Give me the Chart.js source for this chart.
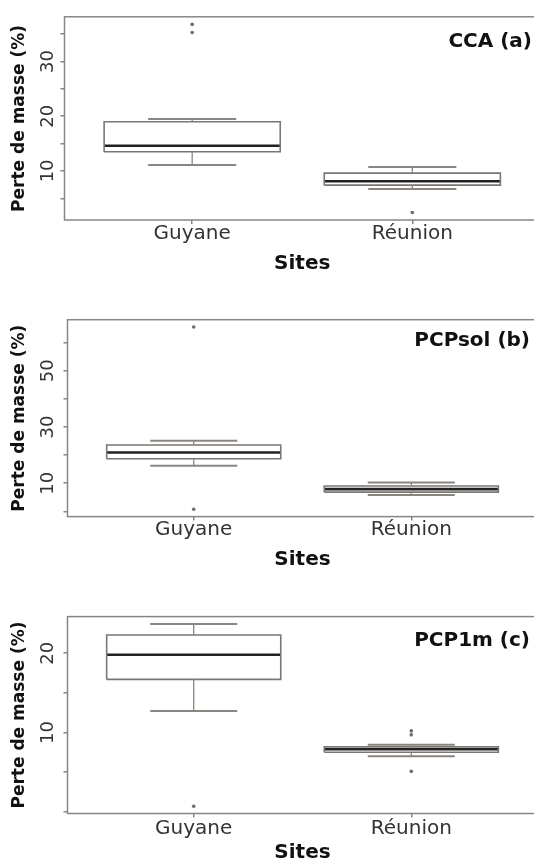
<!DOCTYPE html>
<html><head><meta charset="utf-8">
<script src="https://cdn.jsdelivr.net/npm/chart.js@4.4.1/dist/chart.umd.min.js"></script>
<style>
html,body{margin:0;padding:0;background:#fff;width:534px;height:861px;overflow:hidden;}
canvas{position:absolute;left:0;}
.lab{position:absolute;font-family:"DejaVu Sans";font-weight:bold;font-size:20px;line-height:20px;color:#111;white-space:nowrap;}
</style></head><body>
<canvas id="c1" width="560" height="290" style="top:0px"></canvas>
<canvas id="c2" width="560" height="290" style="top:290px"></canvas>
<canvas id="c3" width="560" height="281" style="top:580px"></canvas>
<div class="lab" style="right:2px;top:29.6px">CCA (a)</div>
<div class="lab" style="right:4px;top:329.1px">PCPsol (b)</div>
<div class="lab" style="right:4px;top:629.1px">PCP1m (c)</div>
<script>
// ---------- data ----------
const sites = ["Guyane", "Réunion"];
const xTickValues = [1, 2];
const yTitle = "Perte de masse (%)";
const xTitle = "Sites";

// CCA (a)
const ccaLow = [11.1, 6.7];
const ccaQ1 = [13.5, 7.4];
const ccaMedian = [14.6, 8.1];
const ccaQ3 = [19.0, 9.6];
const ccaHigh = [19.5, 10.7];
const ccaOutliers = [[36.8, 35.3], [2.4]];
const ccaTicks = [5, 10, 15, 20, 25, 30, 35];
const ccaTickLabels = [10, 20, 30];

// PCPsol (b)
const solLow = [16.2, 5.8];
const solQ1 = [18.7, 6.8];
const solMedian = [20.9, 7.9];
const solQ3 = [23.6, 9.0];
const solHigh = [25.1, 10.2];
const solOutliers = [[65.6, 0.7], []];
const solTicks = [0, 10, 20, 30, 40, 50, 60];
const solTickLabels = [10, 30, 50];

// PCP1m (c)
const m1Low = [12.7, 7.0];
const m1Q1 = [16.7, 7.5];
const m1Median = [19.8, 7.9];
const m1Q3 = [22.3, 8.2];
const m1High = [23.7, 8.45];
const m1Outliers = [[0.7], [10.2, 9.7, 5.1]];
const m1Ticks = [0, 5, 10, 15, 20];
const m1TickLabels = [10, 20];

// ---------- style / layout ----------
const FONT = "DejaVu Sans";
const AXIS = "#8a8582";
const BOX = "#7a7672";
const MED = "#222222";
const WHISK = "#8a8580";
const BOX_HALF = 0.4, CAP_HALF = 0.2;
const X_MIN = 0.42, X_MAX = 2.58;
const TL = 4, XF = 20, TF = 20, YF = 18;

const layouts = [
  {id:'c1', height:290, plotLeft:64.5, plotRight:540, plotTop:16.8, plotBottom:220, tickBase:20, titleBase:50},
  {id:'c2', height:290, plotLeft:67.5, plotRight:537.5, plotTop:29.7, plotBottom:226.6, tickBase:19.5, titleBase:49.5},
  {id:'c3', height:281, plotLeft:67.5, plotRight:537.5, plotTop:36.6, plotBottom:233.5, tickBase:21.5, titleBase:45}
];
const panelData = [
  {low:ccaLow, q1:ccaQ1, med:ccaMedian, q3:ccaQ3, high:ccaHigh, out:ccaOutliers, ticks:ccaTicks, labels:ccaTickLabels},
  {low:solLow, q1:solQ1, med:solMedian, q3:solQ3, high:solHigh, out:solOutliers, ticks:solTicks, labels:solTickLabels},
  {low:m1Low, q1:m1Q1, med:m1Median, q3:m1Q3, high:m1High, out:m1Outliers, ticks:m1Ticks, labels:m1TickLabels}
];

const framePlugin = {
  id: 'frame',
  afterDraw(chart) {
    const {ctx, chartArea: a} = chart;
    ctx.save();
    ctx.strokeStyle = AXIS;
    ctx.lineWidth = 1.5;
    ctx.strokeRect(a.left, a.top, a.right - a.left, a.bottom - a.top);
    ctx.restore();
  }
};

function build(L, D) {
  const boxes = [], medians = [], whiskers = [], caps = [], outs = [];
  sites.forEach((s, i) => {
    const c = xTickValues[i];
    boxes.push({x:c-BOX_HALF,y:D.q1[i]},{x:c+BOX_HALF,y:D.q1[i]},{x:c+BOX_HALF,y:D.q3[i]},{x:c-BOX_HALF,y:D.q3[i]},{x:c-BOX_HALF,y:D.q1[i]},{x:c,y:null});
    medians.push({x:c-BOX_HALF,y:D.med[i]},{x:c+BOX_HALF,y:D.med[i]},{x:c,y:null});
    whiskers.push({x:c,y:D.q3[i]},{x:c,y:D.high[i]},{x:c,y:null},{x:c,y:D.q1[i]},{x:c,y:D.low[i]},{x:c,y:null});
    caps.push({x:c-CAP_HALF,y:D.high[i]},{x:c+CAP_HALF,y:D.high[i]},{x:c,y:null},{x:c-CAP_HALF,y:D.low[i]},{x:c+CAP_HALF,y:D.low[i]},{x:c,y:null});
    D.out[i].forEach(v => outs.push({x:c, y:v}));
  });
  const all = [].concat(D.low, D.high, ...D.out);
  const lo = Math.min(...all), hi = Math.max(...all), ext = 0.04 * (hi - lo);
  const xH = L.titleBase + 0.203 * TF;
  const xPad = L.tickBase - 0.797 * XF - TL;
  const yPad = L.plotLeft - 48.5 - TL - 0.636 * YF;
  const lineDs = (data, color, width) => ({type:'scatter', data, showLine:true, spanGaps:false, borderColor:color, borderWidth:width, pointRadius:0, borderJoinStyle:'miter', borderCapStyle:'butt'});
  new Chart(document.getElementById(L.id), {
    type: 'scatter',
    data: {datasets: [
      lineDs(whiskers, WHISK, 1.3),
      lineDs(caps, WHISK, 2),
      lineDs(boxes, BOX, 1.6),
      lineDs(medians, MED, 2.6),
      {type:'scatter', data: outs, pointRadius:1.8, pointBackgroundColor:'#6f6b68', pointBorderWidth:0, showLine:false}
    ]},
    options: {
      responsive:false, animation:false, events:[],
      layout:{padding:{left:0, top:L.plotTop, right:560 - L.plotRight, bottom:L.height - L.plotBottom - xH}},
      plugins:{legend:{display:false}, tooltip:{enabled:false}},
      scales:{
        x:{type:'linear', position:'bottom', min:X_MIN, max:X_MAX,
          afterBuildTicks: s => { s.ticks = xTickValues.map(v => ({value:v})); },
          afterFit: s => { s.height = xH; },
          grid:{display:true, drawOnChartArea:false, drawTicks:true, tickLength:TL, color:AXIS, lineWidth:1.5},
          border:{display:false},
          ticks:{padding:xPad, color:'#333', autoSkip:false, maxRotation:0, minRotation:0,
            font:{family:FONT, size:XF, lineHeight:1}, callback:(v, i) => sites[i]},
          title:{display:true, text:xTitle, color:'#111', padding:{top:0, bottom:0},
            font:{family:FONT, size:TF, weight:'bold', lineHeight:1}}
        },
        y:{type:'linear', position:'left', min:lo - ext, max:hi + ext,
          afterBuildTicks: s => { s.ticks = D.ticks.map(v => ({value:v})); },
          afterFit: s => { s.width = L.plotLeft; },
          grid:{display:true, drawOnChartArea:false, drawTicks:true, tickLength:TL, color:AXIS, lineWidth:1.5},
          border:{display:false},
          ticks:{minRotation:90, maxRotation:90, crossAlign:'center', padding:yPad, color:'#333', autoSkip:false,
            font:{family:FONT, size:YF}, callback: v => D.labels.includes(v) ? String(v) : ''},
          title:{display:true, text:yTitle, color:'#111', padding:{top:9.8, bottom:0},
            font:{family:FONT, size:17, weight:'bold'}}
        }
      }
    },
    plugins:[framePlugin]
  });
}
layouts.forEach((L, i) => build(L, panelData[i]));
</script>
</body></html>
